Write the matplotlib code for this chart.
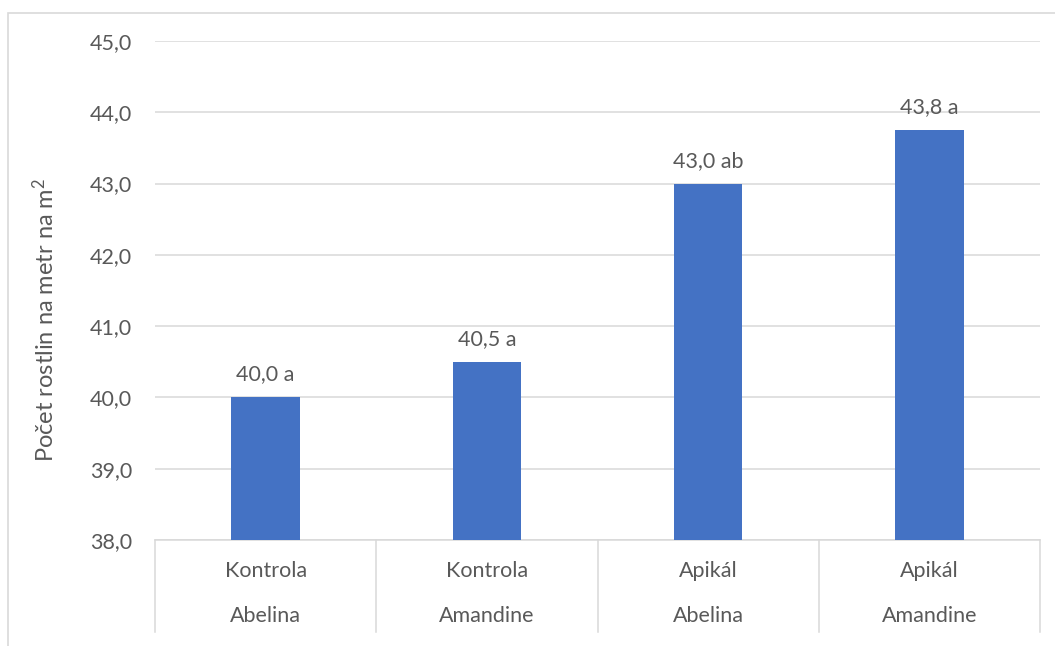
import matplotlib
matplotlib.use("Agg")
import matplotlib.pyplot as plt
from matplotlib.patches import Rectangle
from matplotlib.lines import Line2D

treatments = ["Kontrola", "Kontrola", "Apikál", "Apikál"]
varieties = ["Abelina", "Amandine", "Abelina", "Amandine"]
values = [40.0, 40.5, 43.0, 43.75]
letters = ["a", "a", "ab", "a"]
yticks = [38, 39, 40, 41, 42, 43, 44, 45]
ylabel = "Počet rostlin na metr na m$^2$"

plt.rcParams['font.family'] = ['Lato', 'DejaVu Sans']
plt.rcParams['mathtext.fontset'] = 'custom'
plt.rcParams['mathtext.rm'] = 'Lato'
plt.rcParams['mathtext.it'] = 'Lato'
txt = "#595959"
grid = "#D9D9D9"
fs = 15.5
W, H = 1055, 646
fig = plt.figure(figsize=(W/100, H/100), dpi=100)
ax = fig.add_axes([155/W, 1-540/H, (1040-155)/W, (540-41)/H])

x = list(range(len(values)))
ax.bar(x, [v - 38 for v in values], bottom=38, width=0.31, color="#4472C4", zorder=3)
ax.set_xlim(-0.5, len(values) - 0.5)
ax.set_ylim(38, 45)
ax.set_yticks(yticks)
ax.set_yticklabels([f"{t:.1f}".replace(".", ",") for t in yticks], fontsize=fs, color=txt)
ax.tick_params(axis='y', length=0, pad=16.5)
ax.set_xticks([])
ax.grid(axis='y', color=grid, linewidth=1.1, zorder=0)
for s in ["top", "right", "left"]:
    ax.spines[s].set_visible(False)
ax.spines["bottom"].set_color(grid)
ax.spines["bottom"].set_linewidth(1.1)
fig.text(45/W, 1-320/H, ylabel, rotation=90, ha="center", va="center", fontsize=17, color=txt)

for xi, v, l in zip(x, values, letters):
    ax.annotate(f"{v:.1f}".replace(".", ",") + " " + l, (xi, v), xytext=(0, 12.2),
                textcoords="offset points", ha="center", va="baseline", fontsize=fs, color=txt)

# multi-level category axis
tr = ax.get_xaxis_transform()
ph = 540 - 41
y_bot = -(632 - 540) / ph
for b in [-0.5, 0.5, 1.5, 2.5, 3.5]:
    ax.add_line(Line2D([b, b], [0, y_bot], transform=tr, color=grid, lw=1.1, clip_on=False))
for xi, t, v in zip(x, treatments, varieties):
    ax.text(xi, -(571 - 540) / ph, t, transform=tr, ha="center", va="center", fontsize=fs, color=txt)
    ax.text(xi, -(616 - 540) / ph, v, transform=tr, ha="center", va="center", fontsize=fs, color=txt)

# chart border
fig.patches.append(Rectangle((8/W, -0.1), 1.2, 1 - 13/H + 0.1, transform=fig.transFigure,
                             fill=False, edgecolor=grid, lw=1.2))

fig.savefig("out.png", dpi=100)
